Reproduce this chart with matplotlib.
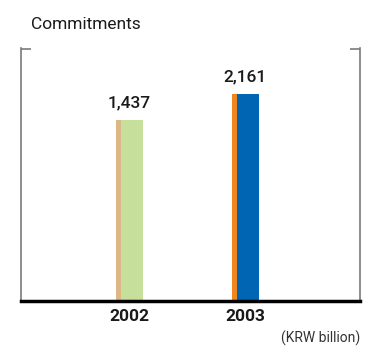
import matplotlib
matplotlib.use("Agg")
import matplotlib.pyplot as plt

# Data
years = ["2002", "2003"]
commitments = [1437, 2161]
value_labels = ["1,437", "2,161"]
unit_label = "(KRW billion)"
title = "Commitments"

# Colours: thin side strip + main face for each bar
side_colors = ["#dcb888", "#f0861f"]
face_colors = ["#c6e09c", "#0066b3"]

plt.rcParams["font.family"] = ["Roboto", "DejaVu Sans"]

fig = plt.figure(figsize=(3.74, 3.46), dpi=100)
ax = fig.add_axes([21 / 374, 45 / 346, 339 / 374, 252.5 / 346])

# Value axis starts below zero so the baseline sits low in the frame
y_base = -3603
y_top = 3428
x = list(range(len(years)))

side_w = 0.043
face_w = 0.187
for i, v in enumerate(commitments):
    left = x[i] - (side_w + face_w) / 2
    ax.bar(left, v - y_base, width=side_w, bottom=y_base, align="edge",
           color=side_colors[i], linewidth=0)
    ax.bar(left + side_w, v - y_base, width=face_w, bottom=y_base, align="edge",
           color=face_colors[i], linewidth=0)
    ax.annotate(value_labels[i], xy=(x[i], v), xytext=(0, 9.4),
                textcoords="offset points", ha="center", va="baseline",
                fontsize=12.5, fontweight="medium", color="#1a1a1a")

ax.set_xlim(-0.935, 1.99)
ax.set_ylim(y_base, y_top)

ax.set_xticks(x)
ax.set_xticklabels(years, fontsize=12.5, fontweight="bold", color="#1a1a1a")
ax.tick_params(axis="x", length=0, pad=6)
ax.set_yticks([])

for side in ("left", "right"):
    ax.spines[side].set_color("#7a7a7a")
    ax.spines[side].set_linewidth(1.2)
ax.spines["top"].set_visible(False)
ax.spines["bottom"].set_color("black")
ax.spines["bottom"].set_linewidth(2.5)

# Short corner ticks at the top of the frame
corner = 10 / 339
ax.plot([0, corner], [1, 1], transform=ax.transAxes, color="#7a7a7a",
        lw=1.2, clip_on=False, solid_capstyle="butt")
ax.plot([1 - corner, 1], [1, 1], transform=ax.transAxes, color="#7a7a7a",
        lw=1.2, clip_on=False, solid_capstyle="butt")

fig.text(31 / 374, (346 - 29) / 346, title, fontsize=12.5, color="#1a1a1a",
         ha="left", va="baseline")
fig.text(360 / 374, (346 - 343) / 346, unit_label, fontsize=10, color="#333333",
         ha="right", va="baseline")

fig.savefig("out.png", dpi=100)
